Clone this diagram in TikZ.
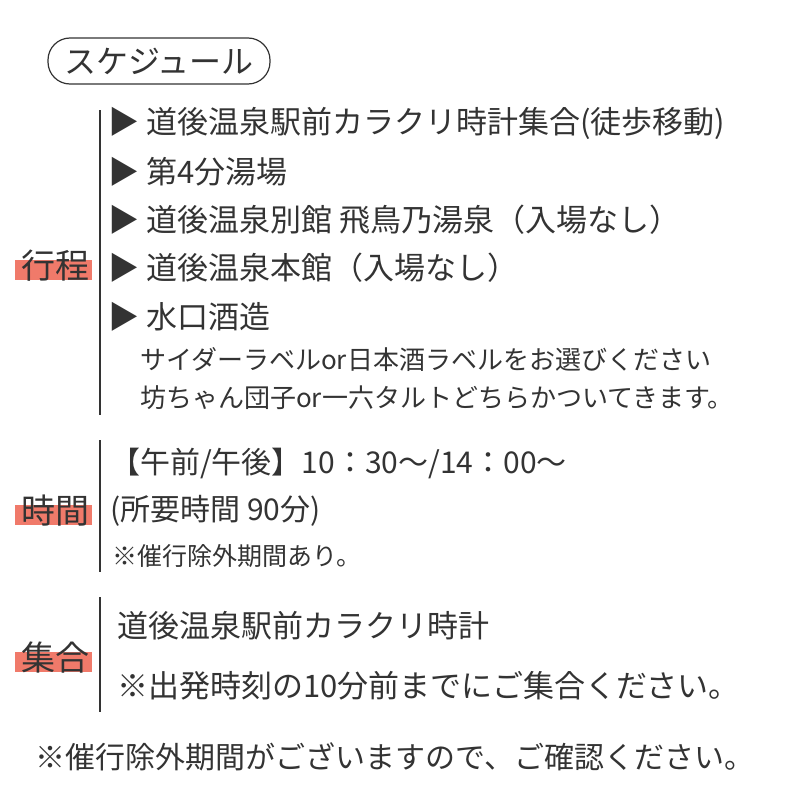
\documentclass[tikz,border=0pt]{standalone}
\usepackage{fontspec}
\setmainfont{Noto Sans CJK JP}
\usetikzlibrary{positioning}
\definecolor{ink}{HTML}{333333}
\definecolor{salmon}{HTML}{F07A6A}
\tikzset{
  line/.style={anchor=west, inner sep=0pt, text=ink, font=\fontsize{31}{34}\selectfont},
  small/.style={anchor=west, inner sep=0pt, text=ink, font=\fontsize{26}{30}\selectfont},
  label/.style={inner sep=0pt, text=ink, font=\fontsize{34}{38}\selectfont},
  bar/.style={draw=ink, line width=2.5pt}
}
\begin{document}
\begin{tikzpicture}[x=1pt, y=-1pt]
      \useasboundingbox (0,0) rectangle (800,800);
      \node(title) [draw=ink, line width=1.2pt, rounded corners=22pt, minimum width=222pt, minimum height=46pt, text=ink, font=\fontsize{32}{34}\selectfont] at (159,61) {スケジュール};

      % 行程
      \fill[salmon] (15,260) rectangle (92,280);
      \node(kotei) [label] at (55,266) {行程};
      \coordinate (b1t) at (100,110);
      \coordinate (b1b) at (100,415);
      \draw[bar] (b1t) -- (b1b);
      \node(r1) [line] at (108,123) {▶ 道後温泉駅前カラクリ時計集合(徒歩移動)};
      \node(r2) [line] at (108,172) {▶ 第4分湯場};
      \node(r3) [line] at (108,220) {▶ 道後温泉別館 飛鳥乃湯泉（入場なし）};
      \node(r4) [line] at (108,268) {▶ 道後温泉本館（入場なし）};
      \node(r5) [line] at (108,317) {▶ 水口酒造};
      \node(n1) [small] at (140,360) {サイダーラベルor日本酒ラベルをお選びください};
      \node(n2) [small] at (140,398) {坊ちゃん団子or一六タルトどちらかついてきます。};

      % 時間
      \fill[salmon] (15,505) rectangle (92,525);
      \node(jikan) [label] at (55,511) {時間};
      \coordinate (b2t) at (100,440);
      \coordinate (b2b) at (100,572);
      \draw[bar] (b2t) -- (b2b);
      \node(t1) [line, font=\fontsize{30}{34}\selectfont] at (110,463) {【午前/午後】10：30〜/14：00〜};
      \node(t2) [line, font=\fontsize{30}{34}\selectfont] at (110,511) {(所要時間 90分)};
      \node(t3) [small, font=\fontsize{25}{30}\selectfont] at (112,556) {※催行除外期間あり。};

      % 集合
      \fill[salmon] (15,652) rectangle (92,672);
      \node(shugo) [label] at (55,658) {集合};
      \coordinate (b3t) at (100,597);
      \coordinate (b3b) at (100,712);
      \draw[bar] (b3t) -- (b3b);
      \node(s1) [line] at (117,626) {道後温泉駅前カラクリ時計};
      \node(s2) [line] at (117,686) {※出発時刻の10分前までにご集合ください。};

      \node(foot) [line, font=\fontsize{30}{34}\selectfont] at (35,757) {※催行除外期間がございますので、ご確認ください。};
\end{tikzpicture}
\end{document}
